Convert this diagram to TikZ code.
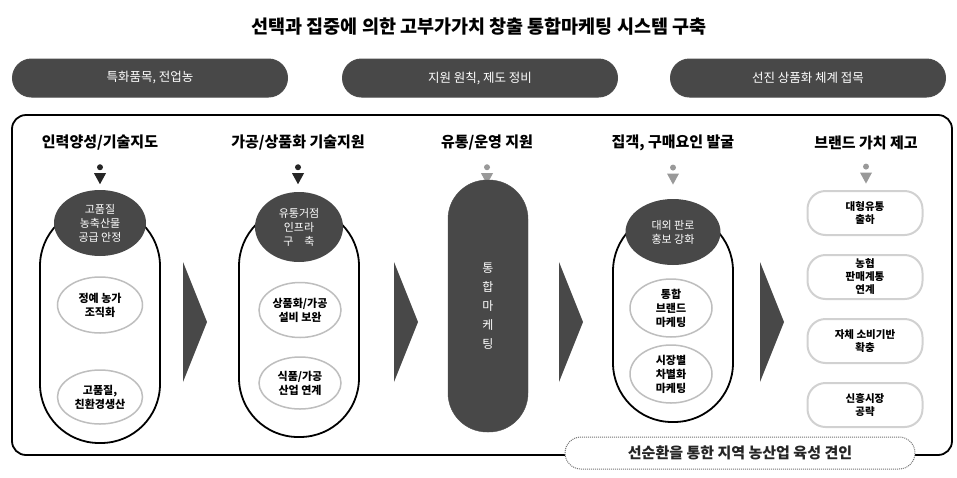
\documentclass[tikz,border=0pt]{standalone}
\usepackage{fontspec}
\setmainfont{Noto Sans CJK KR}
\usepackage{tikz}
\usetikzlibrary{shapes,arrows,positioning,fit}
\definecolor{hubgray}{RGB}{72,72,72}
\definecolor{ringgray}{RGB}{190,190,190}

\begin{document}
\begin{tikzpicture}[x=1pt, y=-1pt,
    pill/.style={rectangle, rounded corners=19pt, fill=hubgray, draw=black!70, line width=1pt, minimum width=275pt, minimum height=38pt, text=white, font=\fontsize{12.5}{14}\selectfont},
    head/.style={font=\bfseries\fontsize{15}{17}\selectfont},
    holder/.style={rectangle, draw, line width=1.8pt, fill=white, minimum width=120pt, rounded corners=59pt},
    hub/.style={ellipse, fill=hubgray, align=center, text=white, inner sep=0pt, font=\fontsize{11}{14}\selectfont},
    item/.style={ellipse, draw=ringgray, line width=1.5pt, fill=white, align=center, inner sep=0pt, font=\bfseries\fontsize{11}{14}\selectfont},
    outlet/.style={rectangle, rounded corners=18pt, draw=ringgray!70, line width=2pt, fill=white, minimum width=115pt, minimum height=44pt, align=center, font=\bfseries\fontsize{10.5}{13}\selectfont},
    chevron/.style={fill=hubgray}
]
\useasboundingbox (0,0) rectangle (957,477);

% title and top pills
\node[font=\bfseries\fontsize{18.5}{20}\selectfont] (title) at (479,27) {선택과 집중에 의한 고부가가치 창출 통합마케팅 시스템 구축};
\node[pill] (p1) at (150,78) {특화품목, 전업농};
\node[pill] (p2) at (480,78) {지원 원칙, 제도 정비};
\node[pill] (p3) at (808,78) {선진 상품화 체계 접목};

% outer frame
\draw[line width=1.8pt, rounded corners=14pt] (12,115) rectangle (952,455);

% column headers
\node[head] (h1) at (100,143) {인력양성/기술지도};
\node[head] (h2) at (298,143) {가공/상품화 기술지원};
\node[head] (h3) at (487,143) {유통/운영 지원};
\node[head] (h4) at (673,143) {집객, 구매요인 발굴};
\node[head] (h5) at (866,143) {브랜드 가치 제고};

% small down marks
\foreach \n/\c in {h1/black!85, h2/black!85, h3/black!40, h4/black!40, h5/black!40}{
  \fill[\c] ([yshift=-13pt]\n.south) circle (3pt);
  \fill[\c] ([yshift=-19pt, xshift=-6pt]\n.south) -- ++(12,0) -- ++(-6,11) -- cycle;
}

% column 1
\node[holder, minimum height=236pt] (c1) at (100,325) {};
\node[hub, minimum width=92pt, minimum height=66pt] (hub1) at (100,223) {고품질\\농축산물\\공급 안정};
\node[item, minimum width=85pt, minimum height=56pt] (i11) at (100,305) {정예 농가\\조직화};
\node[item, minimum width=85pt, minimum height=54pt] (i12) at (100,397) {고품질,\\친환경생산};

% column 2
\node[holder, minimum height=230pt] (c2) at (299,322) {};
\node[hub, minimum width=88pt, minimum height=70pt] (hub2) at (299,227) {유통거점\\인프라\\구\quad 축};
\node[item, minimum width=82pt, minimum height=55pt] (i21) at (300,310) {상품화/가공\\설비 보완};
\node[item, minimum width=82pt, minimum height=52pt] (i22) at (300,383) {식품/가공\\산업 연계};

% column 3
\node[rectangle, rounded corners=39pt, fill=hubgray, draw=black!70, minimum width=80pt, minimum height=252pt, text=white, align=center, font=\fontsize{12}{19}\selectfont] (c3) at (488,306) {통\\합\\마\\케\\팅};

% column 4
\node[holder, minimum height=210pt] (c4) at (673,317) {};
\node[hub, minimum width=95pt, minimum height=66pt] (hub4) at (673,232) {대외 판로\\홍보 강화};
\node[item, minimum width=82pt, minimum height=58pt] (i41) at (671,308) {통합\\브랜드\\마케팅};
\node[item, minimum width=82pt, minimum height=58pt] (i42) at (671,374) {시장별\\차별화\\마케팅};

% column 5
\node[outlet] (o1) at (865,213) {대형유통\\출하};
\node[outlet, below=18pt of o1] (o2) {농협\\판매계통\\연계};
\node[outlet, below=18pt of o2] (o3) {자체 소비기반\\확충};
\node[outlet, below=18pt of o3] (o4) {신흥시장\\공략};

% chevrons between columns
\foreach \x in {183,394,559,760}
  \fill[chevron] (\x,262) -- ++(24,60) -- ++(-24,60) -- cycle;

% bottom banner
\node[rectangle, rounded corners=16pt, draw=black!55, densely dotted, line width=1pt, fill=white, minimum width=350pt, minimum height=32pt, font=\bfseries\fontsize{15}{17}\selectfont, text=black!85] (goal) at (740,453) {선순환을 통한 지역 농산업 육성 견인};

\end{tikzpicture}
\end{document}
